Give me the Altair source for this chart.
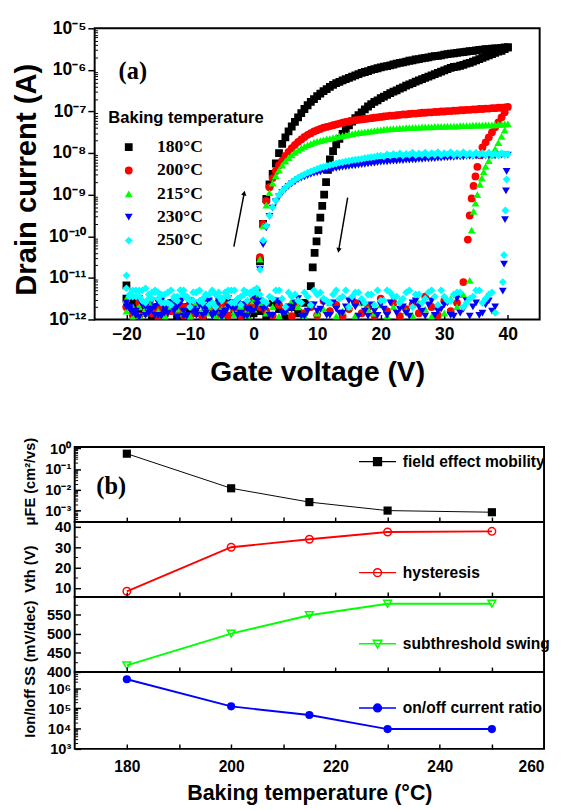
import altair as alt
import pandas as pd

SUP = str.maketrans("-0123456789", "⁻⁰¹²³⁴⁵⁶⁷⁸⁹")


def pow10_expr(exps):
    expr = "''"
    for e in exps:
        expr = "abs(log(datum.value)/LN10 - (%d)) < 0.01 ? '10%s' : %s" % (e, str(e).translate(SUP), expr)
    return expr


def log_minor(lo, hi, e0, e1):
    return [k * 10.0 ** e for e in range(e0, e1 + 1) for k in range(2, 10) if lo <= k * 10.0 ** e <= hi]


# ---------------------------------------------------------------- panel (a)
temps = ["180°C", "200°C", "215°C", "230°C", "250°C"]
colors = ["#000000", "#ff0000", "#00ff00", "#0000ff", "#00ffff"]
shapes = ["square", "circle", "triangle-up", "triangle-down", "diamond"]
sizes = [64, 64, 72, 72, 100]

# log10(drain current); forward sweep off-state, V = -20, -19, ..., 0
fwd_floor_180 = [-11.18, -11.55, -11.80, -11.65, -11.90, -11.70, -11.85, -11.60, -11.92, -11.75, -11.80,
                 -11.62, -11.90, -11.70, -11.85, -11.92, -11.68, -11.80, -11.90, -11.72, -11.85]
fwd_floor_200 = [-11.70, -11.90, -11.60, -11.85, -11.75, -11.95, -11.65, -11.80, -11.70, -11.90, -11.60,
                 -11.85, -11.95, -11.70, -11.80, -11.65, -11.90, -11.75, -11.85, -11.60, -11.50]
fwd_floor_215 = [-11.50, -11.95, -11.70, -11.85, -11.60, -11.80, -11.90, -11.65, -11.75, -11.85, -11.95,
                 -11.60, -11.80, -11.70, -11.90, -11.75, -11.62, -11.88, -11.70, -11.80, -11.55]
fwd_floor_230 = [-11.60, -11.85, -11.95, -11.70, -11.55, -11.90, -11.75, -11.60, -11.95, -11.80, -11.65,
                 -11.90, -11.70, -11.55, -11.85, -11.95, -11.70, -11.60, -11.85, -11.75, -11.45]
fwd_floor_250 = [-10.94, -11.30, -11.45, -11.25, -11.50, -11.35, -11.60, -11.30, -11.55, -11.40, -11.70,
                 -11.35, -11.50, -11.65, -11.40, -11.55, -11.30, -11.60, -11.45, -11.35, -11.30]
# extra off-state readings between the integers, V = -19.5, ..., -0.5 (230 and 250 °C)
fwd_half_230 = [-11.75, -11.90, -11.60, -11.85, -11.70, -11.92, -11.65, -11.80, -11.55, -11.90,
                -11.75, -11.65, -11.85, -11.92, -11.60, -11.80, -11.70, -11.90, -11.65, -11.80]
fwd_half_250 = [-11.45, -11.30, -11.55, -11.40, -11.30, -11.60, -11.35, -11.50, -11.30, -11.45,
                -11.55, -11.30, -11.40, -11.60, -11.35, -11.45, -11.30, -11.50, -11.40, -11.35]

# forward sweep on-state, V = 0.5, 1.0, ..., 40 (ten values per 5 V)
fwd_on_180 = [-11.50, -10.60, -9.70, -9.10, -8.75, -8.50, -8.25, -8.00, -7.78, -7.62,
              -7.48, -7.36, -7.25, -7.14, -7.04, -6.94, -6.85, -6.77, -6.70, -6.63,
              -6.57, -6.51, -6.46, -6.41, -6.36, -6.32, -6.29, -6.25, -6.22, -6.19,
              -6.16, -6.13, -6.10, -6.07, -6.05, -6.03, -6.00, -5.98, -5.96, -5.94,
              -5.92, -5.91, -5.89, -5.87, -5.85, -5.83, -5.82, -5.80, -5.78, -5.77,
              -5.75, -5.74, -5.72, -5.71, -5.70, -5.68, -5.67, -5.66, -5.65, -5.63,
              -5.62, -5.61, -5.60, -5.59, -5.58, -5.57, -5.56, -5.55, -5.54, -5.53,
              -5.52, -5.51, -5.50, -5.50, -5.49, -5.48, -5.48, -5.47, -5.46, -5.46]
fwd_on_200 = [-11.30, -10.50, -9.70, -9.15, -8.82, -8.60, -8.43, -8.29, -8.18, -8.07,
              -7.97, -7.88, -7.80, -7.73, -7.67, -7.61, -7.56, -7.52, -7.48, -7.45,
              -7.42, -7.39, -7.37, -7.35, -7.33, -7.31, -7.29, -7.27, -7.25, -7.24,
              -7.22, -7.21, -7.20, -7.19, -7.18, -7.17, -7.16, -7.15, -7.14, -7.13,
              -7.12, -7.11, -7.10, -7.10, -7.09, -7.08, -7.07, -7.07, -7.06, -7.05,
              -7.05, -7.04, -7.03, -7.03, -7.02, -7.02, -7.01, -7.01, -7.00, -7.00,
              -6.99, -6.99, -6.98, -6.98, -6.97, -6.97, -6.96, -6.96, -6.95, -6.95,
              -6.94, -6.94, -6.93, -6.93, -6.92, -6.92, -6.91, -6.91, -6.90, -6.89]
fwd_on_215 = [-11.50, -10.55, -9.75, -9.25, -8.95, -8.72, -8.55, -8.41, -8.29, -8.19,
              -8.11, -8.04, -7.98, -7.93, -7.88, -7.84, -7.80, -7.77, -7.74, -7.72,
              -7.70, -7.68, -7.66, -7.65, -7.63, -7.61, -7.60, -7.58, -7.57, -7.55,
              -7.54, -7.52, -7.51, -7.50, -7.49, -7.48, -7.47, -7.46, -7.45, -7.44,
              -7.43, -7.42, -7.42, -7.41, -7.41, -7.40, -7.40, -7.39, -7.39, -7.38,
              -7.38, -7.38, -7.37, -7.37, -7.37, -7.37, -7.36, -7.36, -7.36, -7.36,
              -7.35, -7.35, -7.35, -7.35, -7.34, -7.34, -7.34, -7.34, -7.33, -7.33,
              -7.33, -7.33, -7.32, -7.32, -7.32, -7.32, -7.31, -7.31, -7.30, -7.30]
fwd_on_230 = [-11.55, -10.80, -10.20, -9.80, -9.52, -9.32, -9.17, -9.05, -8.95, -8.87,
              -8.80, -8.74, -8.69, -8.64, -8.60, -8.57, -8.54, -8.51, -8.49, -8.47,
              -8.45, -8.43, -8.41, -8.40, -8.38, -8.37, -8.35, -8.34, -8.33, -8.32,
              -8.31, -8.30, -8.29, -8.28, -8.27, -8.26, -8.25, -8.24, -8.23, -8.22,
              -8.21, -8.21, -8.20, -8.19, -8.19, -8.18, -8.18, -8.17, -8.17, -8.16,
              -8.16, -8.15, -8.15, -8.14, -8.14, -8.13, -8.13, -8.12, -8.12, -8.11,
              -8.11, -8.10, -8.10, -8.09, -8.09, -8.09, -8.08, -8.08, -8.08, -8.07,
              -8.07, -8.07, -8.07, -8.06, -8.06, -8.06, -8.06, -8.05, -8.05, -8.05]
fwd_on_250 = [-11.25, -10.80, -10.10, -9.75, -9.50, -9.30, -9.14, -9.01, -8.91, -8.83,
              -8.76, -8.70, -8.64, -8.59, -8.55, -8.51, -8.47, -8.44, -8.41, -8.38,
              -8.35, -8.33, -8.31, -8.29, -8.27, -8.25, -8.23, -8.22, -8.20, -8.19,
              -8.17, -8.16, -8.15, -8.14, -8.12, -8.11, -8.10, -8.09, -8.07, -8.06,
              -8.08, -8.03, -8.06, -8.02, -8.05, -8.01, -8.06, -8.02, -8.04, -7.99,
              -8.05, -8.01, -8.04, -7.99, -8.05, -8.00, -8.04, -7.98, -8.05, -8.00,
              -8.03, -7.98, -8.05, -8.00, -8.04, -7.98, -8.04, -8.00, -8.05, -7.99,
              -8.04, -8.00, -8.05, -7.99, -8.04, -8.01, -8.05, -8.00, -8.04, -8.02]

# reverse sweep on-state: (V, log10 I)
rev_on_180 = [(40, -5.46), (39.5, -5.50), (39, -5.54), (38.5, -5.56), (38, -5.59), (37.5, -5.62),
              (37, -5.65), (36.5, -5.68), (36, -5.71), (35.5, -5.74), (35, -5.77), (34.5, -5.80),
              (34, -5.83), (33.5, -5.85), (33, -5.88), (32.5, -5.90), (32, -5.92), (31.5, -5.93),
              (31, -5.95), (30.5, -5.98), (30, -6.01), (29.5, -6.04), (29, -6.07), (28.5, -6.10),
              (28, -6.13), (27.5, -6.16), (27, -6.19), (26.5, -6.22), (26, -6.25), (25.5, -6.28),
              (25, -6.32), (24.5, -6.35), (24, -6.38), (23.5, -6.42), (23, -6.45), (22.5, -6.49),
              (22, -6.52), (21.5, -6.56), (21, -6.60), (20.5, -6.64), (20, -6.68), (19.5, -6.73),
              (19, -6.77), (18.5, -6.82), (18, -6.88), (17.5, -6.95), (17, -7.02), (16.5, -7.09),
              (16, -7.16), (15.5, -7.24), (15, -7.33), (14.5, -7.43), (14, -7.54), (13.5, -7.66),
              (13, -7.79), (12.5, -7.95), (12, -8.15), (11.7, -8.40), (11.4, -8.70), (11.1, -9.00),
              (10.8, -9.27), (10.5, -9.55), (10.2, -9.85), (9.9, -10.12), (9.6, -10.40),
              (9.3, -10.75), (9.0, -11.20)]
rev_on_200 = [(39.5, -7.02), (39, -7.14), (38.5, -7.26), (38, -7.38), (37.5, -7.50), (37, -7.62),
              (36.5, -7.74), (36, -7.86), (35.6, -8.05), (35.2, -8.33), (34.9, -8.56), (34.6, -8.79),
              (34.3, -9.09), (34.0, -9.50), (33.7, -10.08)]
rev_on_215 = [(39.5, -7.45), (39, -7.60), (38.5, -7.75), (38, -7.90), (37.5, -8.05), (37, -8.18),
              (36.5, -8.32), (36.2, -8.45), (35.9, -8.60), (35.6, -8.75), (35.2, -9.00), (34.9, -9.20),
              (34.6, -9.40), (34.3, -9.85)]
rev_on_230 = [(39.8, -8.44), (39.7, -8.91), (39.55, -9.60), (39.4, -10.67), (39.2, -11.32)]
rev_on_250 = [(39.8, -8.63), (39.6, -9.38), (39.4, -10.45), (39.2, -11.10)]

# reverse sweep off-state, 1 V steps downward from the given start voltage
rev_floor_start = [8, 33, 34, 38, 38]
rev_floor_180 = [-11.60, -11.85, -11.70, -11.92, -11.75, -11.60, -11.90, -11.80, -11.65, -11.90,
                 -11.75, -11.85, -11.60, -11.92, -11.70, -11.80, -11.90, -11.65, -11.85, -11.70,
                 -11.92, -11.60, -11.80, -11.75, -11.90, -11.65, -11.85, -11.70, -11.50]
rev_floor_200 = [-11.10, -11.60, -11.80, -11.55, -11.90, -11.70, -11.45, -11.85, -11.65, -11.75,
                 -11.92, -11.60, -11.80, -11.50, -11.90, -11.70, -11.85, -11.60, -11.75, -11.92,
                 -11.65, -11.80, -11.55, -11.90, -11.70, -11.85, -11.60, -11.92, -11.75, -11.65,
                 -11.90, -11.80, -11.70, -11.60, -11.85, -11.92, -11.75, -11.65, -11.90, -11.80,
                 -11.70, -11.55, -11.85, -11.92, -11.70, -11.80, -11.60, -11.90, -11.75, -11.85,
                 -11.65, -11.92, -11.80, -11.70]
rev_floor_215 = [-11.06, -11.40, -11.70, -11.50, -11.85, -11.65, -11.92, -11.75, -11.60, -11.90,
                 -11.80, -11.55, -11.70, -11.92, -11.65, -11.85, -11.75, -11.60, -11.90, -11.70,
                 -11.80, -11.92, -11.60, -11.75, -11.85, -11.65, -11.90, -11.70, -11.55, -11.80,
                 -11.92, -11.70, -11.85, -11.60, -11.75, -11.90, -11.65, -11.80, -11.70, -11.92,
                 -11.60, -11.85, -11.75, -11.65, -11.90, -11.80, -11.55, -11.70, -11.92, -11.85,
                 -11.60, -11.75, -11.90, -11.70, -11.80]
rev_floor_230 = [-11.70, -11.55, -11.85, -11.60, -11.92, -11.75, -11.50, -11.90, -11.65, -11.80,
                 -11.55, -11.92, -11.70, -11.60, -11.85, -11.75, -11.50, -11.90, -11.65, -11.80,
                 -11.92, -11.60, -11.70, -11.55, -11.85, -11.75, -11.90, -11.60, -11.80, -11.65,
                 -11.92, -11.50, -11.75, -11.85, -11.60, -11.90, -11.70, -11.55, -11.80, -11.92,
                 -11.65, -11.75, -11.50, -11.85, -11.70, -11.60, -11.90, -11.80, -11.55, -11.92,
                 -11.70, -11.65, -11.85, -11.60, -11.75, -11.90, -11.50, -11.80, -11.70]
rev_floor_250 = [-11.84, -11.40, -11.60, -11.30, -11.50, -11.70, -11.35, -11.55, -11.45, -11.65,
                 -11.30, -11.50, -11.40, -11.70, -11.35, -11.60, -11.45, -11.30, -11.55, -11.65,
                 -11.40, -11.50, -11.35, -11.70, -11.45, -11.30, -11.60, -11.50, -11.40, -11.65,
                 -11.35, -11.55, -11.45, -11.70, -11.30, -11.50, -11.60, -11.40, -11.35, -11.55,
                 -11.65, -11.30, -11.45, -11.50, -11.70, -11.40, -11.60, -11.35, -11.55, -11.30,
                 -11.45, -11.65, -11.40, -11.50, -11.35, -11.60, -11.30, -11.45, -11.25]
# extra reverse off-state readings at V = 37.5, 36.5, ..., -19.5 (230 and 250 °C)
rev_half_230 = [-11.80, -11.65, -11.90, -11.70, -11.55, -11.85, -11.92, -11.60, -11.75, -11.90,
                -11.65, -11.80, -11.55, -11.92, -11.70, -11.85, -11.60, -11.75, -11.90, -11.65,
                -11.80, -11.92, -11.55, -11.70, -11.85, -11.60, -11.90, -11.75, -11.65, -11.80,
                -11.92, -11.60, -11.70, -11.85, -11.55, -11.90, -11.75, -11.65, -11.80, -11.92,
                -11.60, -11.70, -11.85, -11.55, -11.90, -11.75, -11.65, -11.80, -11.92, -11.60,
                -11.70, -11.85, -11.55, -11.90, -11.75, -11.65, -11.80, -11.70]
rev_half_250 = [-11.35, -11.50, -11.30, -11.45, -11.60, -11.35, -11.40, -11.55, -11.30, -11.45,
                -11.35, -11.60, -11.40, -11.30, -11.50, -11.45, -11.35, -11.55, -11.30, -11.40,
                -11.60, -11.35, -11.45, -11.30, -11.50, -11.40, -11.55, -11.35, -11.30, -11.45,
                -11.60, -11.40, -11.35, -11.50, -11.30, -11.45, -11.55, -11.35, -11.40, -11.30,
                -11.50, -11.60, -11.35, -11.45, -11.30, -11.40, -11.55, -11.35, -11.50, -11.30,
                -11.45, -11.60, -11.40, -11.35, -11.50, -11.30, -11.45, -11.40]

fwd_floors = [fwd_floor_180, fwd_floor_200, fwd_floor_215, fwd_floor_230, fwd_floor_250]
fwd_halves = [[], [], [], fwd_half_230, fwd_half_250]
fwd_ons = [fwd_on_180, fwd_on_200, fwd_on_215, fwd_on_230, fwd_on_250]
rev_ons = [rev_on_180, rev_on_200, rev_on_215, rev_on_230, rev_on_250]
rev_floors = [rev_floor_180, rev_floor_200, rev_floor_215, rev_floor_230, rev_floor_250]
rev_halves = [[], [], [], rev_half_230, rev_half_250]

rows = []
for k, t in enumerate(temps):
    for i, v in enumerate(fwd_floors[k]):
        rows.append((t, -20 + i, v))
    for i, v in enumerate(fwd_halves[k]):
        rows.append((t, -19.5 + i, v))
    for i, v in enumerate(fwd_ons[k]):
        rows.append((t, 0.5 * (i + 1), v))
    for vg, v in rev_ons[k]:
        rows.append((t, vg, v))
    for i, v in enumerate(rev_floors[k]):
        rows.append((t, rev_floor_start[k] - i, v))
    for i, v in enumerate(rev_halves[k]):
        rows.append((t, 37.5 - i, v))
df_a = pd.DataFrame(rows, columns=["temp", "V", "logI"])
df_a["I"] = 10.0 ** df_a["logI"]

# sweep-direction arrows (V, log10 I)
arrow_x1 = [-3.1, 14.8]
arrow_logy1 = [-10.25, -9.07]
arrow_x2 = [-1.5, 13.4]
arrow_logy2 = [-8.98, -10.32]
arrow_angle = [11, 190]
df_arrow = pd.DataFrame({"x": arrow_x1, "y": [10 ** v for v in arrow_logy1],
                         "x2": arrow_x2, "y2": [10 ** v for v in arrow_logy2],
                         "ang": arrow_angle})

WA, HA = 457, 299
xs_a = alt.Scale(domain=[-25, 45], nice=False, zero=False)
ys_a = alt.Scale(type="log", domain=[1e-12, 1e-5], nice=False)
x_ticks_a = [-20, -10, 0, 10, 20, 30, 40]
y_exps_a = list(range(-12, -4))
y_ticks_a = [10.0 ** e for e in y_exps_a]
y_minor_a = log_minor(1e-12, 1e-5, -12, -6)

pts_a = alt.Chart(df_a).mark_point(filled=True, opacity=1, clip=True).encode(
    x=alt.X("V:Q", scale=xs_a, axis=alt.Axis(values=x_ticks_a, tickSize=0, labelPadding=7, labelFontSize=18,
                                             domain=False, title="Gate voltage (V)", titleFontSize=29,
                                             titlePadding=15)),
    y=alt.Y("I:Q", scale=ys_a, axis=alt.Axis(values=y_ticks_a, labelExpr=pow10_expr(y_exps_a),
                                             tickSize=7, tickWidth=1.5, tickColor="black", labelPadding=2,
                                             labelFontSize=18, domain=False, title="Drain current (A)",
                                             titleFontSize=30, titleX=-55, titleY=155)),
    color=alt.Color("temp:N", scale=alt.Scale(domain=temps, range=colors), sort=temps,
                    legend=alt.Legend(title="Baking temperature", orient="none", legendX=14, legendY=84,
                                      titleFont="Liberation Sans", titleFontSize=17, titleFontWeight="bold",
                                      titleColor="black", titlePadding=12, labelFont="Liberation Serif",
                                      labelFontSize=18, labelFontWeight="bold", labelColor="black",
                                      rowPadding=6, labelOffset=20, symbolOffset=12, padding=0)),
    shape=alt.Shape("temp:N", scale=alt.Scale(domain=temps, range=shapes), sort=temps,
                    legend=alt.Legend(title="Baking temperature", orient="none", legendX=14, legendY=84)),
    size=alt.Size("temp:N", scale=alt.Scale(domain=temps, range=sizes), sort=temps,
                  legend=alt.Legend(title="Baking temperature", orient="none", legendX=14, legendY=84)),
)

arrow_lines = alt.Chart(df_arrow).mark_rule(color="black", strokeWidth=1.5).encode(
    x=alt.X("x:Q", scale=xs_a, axis=None), y=alt.Y("y:Q", scale=ys_a, axis=None), x2="x2:Q", y2="y2:Q")
arrow_heads = alt.Chart(df_arrow).mark_point(shape="triangle", filled=True, size=30, color="black",
                                             opacity=1).encode(
    x=alt.X("x2:Q", scale=xs_a, axis=None), y=alt.Y("y2:Q", scale=ys_a, axis=None),
    angle=alt.Angle("ang:Q", scale=None))
label_a = alt.Chart(pd.DataFrame({"x": [-19], "y": [10 ** -6.03], "t": ["(a)"]})).mark_text(
    font="Liberation Serif", fontSize=25, fontWeight="bold", color="black").encode(
    x=alt.X("x:Q", scale=xs_a, axis=None), y=alt.Y("y:Q", scale=ys_a, axis=None), text="t:N")
# inward tick marks (bottom edge and left edge of panel a)
ticks_a = alt.Chart(df_arrow).mark_point(opacity=0).encode(
    x=alt.X("x:Q", scale=xs_a, axis=alt.Axis(orient="top", offset=-HA, values=x_ticks_a, labels=False,
                                             domain=False, tickSize=5, tickWidth=1.5, tickColor="black",
                                             title=None)),
    y=alt.Y("y:Q", scale=ys_a, axis=alt.Axis(orient="right", offset=-WA, values=y_minor_a, labels=False,
                                             domain=False, tickSize=3, tickWidth=1, tickColor="black",
                                             title=None)))

chart_a = alt.layer(pts_a, arrow_lines, arrow_heads, label_a, ticks_a).resolve_axis(
    x="independent", y="independent").properties(
    width=WA, height=HA, view=alt.ViewBackground(stroke="black", strokeWidth=2))

# ---------------------------------------------------------------- panel (b)
bake_temp = [180, 200, 215, 230, 250]
mobility = [0.55, 0.012, 0.0026, 0.00102, 0.00085]
hysteresis = [8.3, 30.0, 33.9, 37.5, 37.8]
swing = [417, 500, 548, 578, 578]
onoff = [2.75e6, 1.26e5, 4.7e4, 9.5e3, 9.5e3]

WB = 482
SHIFT = 20.5
xs_b = alt.Scale(domain=[170, 260], range=[-SHIFT, WB - SHIFT], nice=False, zero=False)
minor_b = [180, 190, 200, 210, 220, 230, 240, 250]

PATH_SQ = "M-4.75,0H-1M1,0H4.75M-1,-1H1V1H-1Z"
PATH_CI = "M-4.75,0H4.75M-1,0A1,1,0,1,1,1,0A1,1,0,1,1,-1,0Z"
PATH_TD = "M-4.75,0H4.75M-1.1,-0.9H1.1L0,1.1Z"


def tick_axis(orient, values, size, offset=None, width=1.5):
    args = dict(orient=orient, values=values, labels=False, domain=False, tickSize=size, tickWidth=width,
                tickColor="black", title=None)
    if offset is not None:
        args["offset"] = offset
    return alt.Axis(**args)


def b_panel(values, color, shape, filled, size, ydom, ylog, yvals, yminor, ylabexpr, ytitle, title_y,
            height, label, lpath, legend_y, line_w, top_ticks, bottom, extra=None):
    yscale = alt.Scale(type="log", domain=ydom, nice=False) if ylog else \
        alt.Scale(domain=ydom, nice=False, zero=False)
    df = pd.DataFrame({"T": bake_temp, "v": values, "lab": [label] * len(values)})
    base = alt.Chart(df)
    if bottom:
        xaxis = alt.Axis(values=[180, 200, 220, 240, 260], labelFontSize=16, tickSize=0, labelPadding=10,
                         domain=False, title="Baking temperature (°C)", titleFontSize=22, titlePadding=9)
    else:
        xaxis = None
    yargs = dict(values=yvals, title=ytitle, titleX=-38, titleY=title_y, titleFontSize=15,
                 labelFontSize=15, labelPadding=4, tickSize=0, domain=False, offset=SHIFT)
    if ylabexpr:
        yargs["labelExpr"] = ylabexpr
    line = base.mark_line(color=color, strokeWidth=line_w).encode(
        x=alt.X("T:Q", scale=xs_b, axis=xaxis),
        y=alt.Y("v:Q", scale=yscale, axis=alt.Axis(**yargs)))
    pts = base.mark_point(shape=shape, filled=filled, size=size, strokeWidth=1.5, opacity=1).encode(
        x=alt.X("T:Q", scale=xs_b, axis=None),
        y=alt.Y("v:Q", scale=yscale, axis=None),
        color=alt.Color("lab:N", scale=alt.Scale(domain=[label], range=[color]),
                        legend=alt.Legend(title=None, orient="none", legendX=303 - SHIFT, legendY=legend_y,
                                          symbolType=lpath, symbolSize=64, symbolStrokeWidth=1.5,
                                          symbolStrokeColor=color, labelFont="Liberation Sans",
                                          labelFontSize=16, labelFontWeight="bold", labelColor="black",
                                          labelOffset=18, labelLimit=300, padding=0)))
    frame = alt.Chart(pd.DataFrame({"x": [170], "x2": [260], "y": [ydom[0]], "y2": [ydom[1]]})).mark_rect(
        filled=False, stroke="black", strokeWidth=2).encode(
        x=alt.X("x:Q", scale=xs_b, axis=None), x2="x2:Q",
        y=alt.Y("y:Q", scale=yscale, axis=None), y2="y2:Q")
    layers = [line, pts, frame]
    # inward ticks: top edge (pointing up into the panel above), left edge major and minor ticks
    layers.append(base.mark_point(opacity=0).encode(
        x=alt.X("T:Q", scale=xs_b, axis=tick_axis("top", minor_b, 5) if top_ticks else None),
        y=alt.Y("v:Q", scale=yscale, axis=tick_axis("right", yvals, 6, offset=-(WB + SHIFT)))))
    layers.append(base.mark_point(opacity=0).encode(
        x=alt.X("T:Q", scale=xs_b, axis=tick_axis("top", minor_b, 5, offset=-height) if bottom else None),
        y=alt.Y("v:Q", scale=yscale, axis=tick_axis("right", yminor, 3, offset=-(WB + SHIFT), width=1))))
    if extra is not None:
        ex_df, ex_x, ex_y, ex_text = extra
        layers.append(alt.Chart(ex_df).mark_text(font="Liberation Serif", fontSize=25, fontWeight="bold",
                                                 color="black").encode(
            x=alt.X(ex_x, scale=xs_b, axis=None), y=alt.Y(ex_y, scale=yscale, axis=None), text=ex_text))
    return alt.layer(*layers).resolve_axis(x="independent", y="independent").properties(
        width=WB, height=height)


label_b_df = pd.DataFrame({"x": [177], "y": [10 ** -1.81], "t": ["(b)"]})

p1 = b_panel(mobility, "#000000", "square", True, 70, [10 ** -3.54, 10 ** 0.06], True,
             [1e-3, 1e-2, 1e-1, 1.0], log_minor(10 ** -3.54, 10 ** 0.06, -4, 0),
             pow10_expr([-3, -2, -1, 0]), "μFE (cm²/vs)", 35, 77,
             "field effect mobility", PATH_SQ, 7, 1, False, False,
             extra=(label_b_df, "x:Q", "y:Q", "t:N"))
p2 = b_panel(hysteresis, "#ff0000", "circle", False, 60, [5.5, 42.4], False,
             [10, 20, 30, 40], [15, 25, 35], None, "Vth (V)", 48, 77,
             "hysteresis", PATH_CI, 44, 2, True, False)
p3 = b_panel(swing, "#00ff00", "triangle-down", False, 65, [400, 595.5], False,
             [400, 450, 500, 550], [425, 475, 525, 575], None, "SS (mV/dec)", 47, 77,
             "subthreshold swing", PATH_TD, 40, 2, True, False)
p4 = b_panel(onoff, "#0000ff", "circle", True, 70, [1e3, 10 ** 6.8], True,
             [1e3, 1e4, 1e5, 1e6], log_minor(1e3, 10 ** 6.8, 3, 6),
             pow10_expr([3, 4, 5, 6]), "Ion/Ioff", 42, 79,
             "on/off current ratio", PATH_CI, 29, 2, True, True)

chart_b = alt.vconcat(p1, p2, p3, p4, spacing=0, bounds="flush").resolve_scale(color="independent")

chart = alt.vconcat(chart_a, chart_b, spacing=50).resolve_scale(
    color="independent", shape="independent", size="independent").properties(
    padding={"left": 2, "top": 0, "right": 0, "bottom": 0}
).configure(font="Liberation Sans").configure_axis(
    labelFont="Liberation Sans", titleFont="Liberation Sans", labelFontWeight="bold",
    titleFontWeight="bold", labelColor="black", titleColor="black", grid=False
).configure_view(stroke=None)

chart.save("out.html", embed_options={"renderer": "svg", "actions": False})
